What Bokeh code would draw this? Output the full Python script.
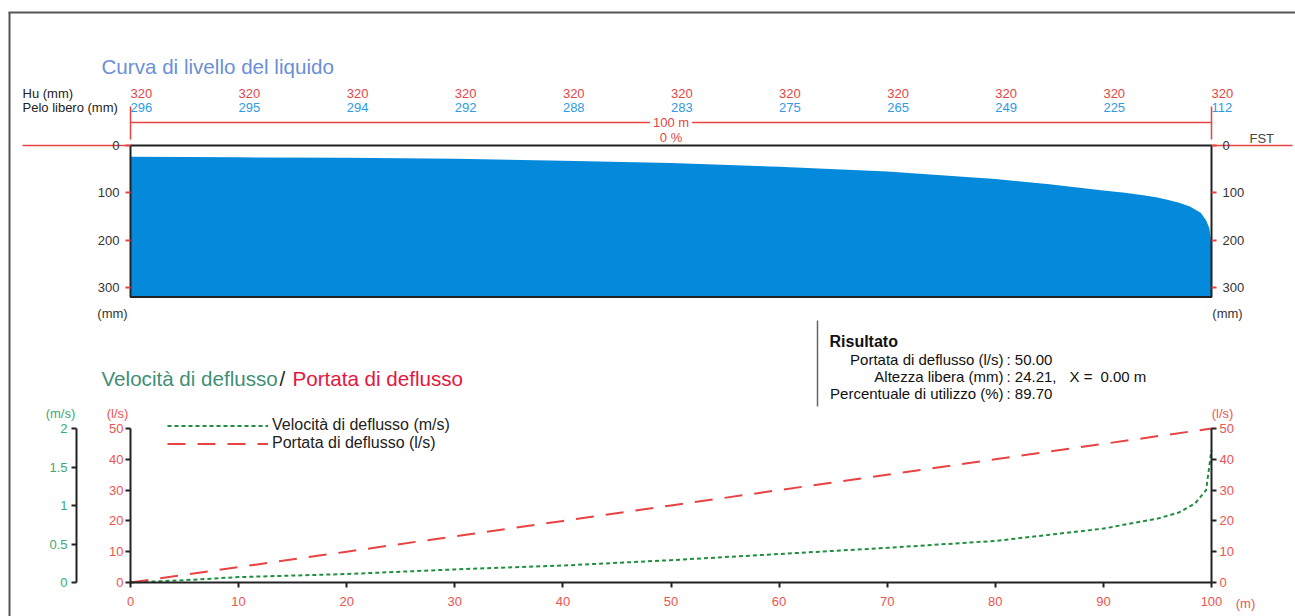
from bokeh.plotting import figure
from bokeh.models import (Range1d, LinearAxis, FixedTicker, NumeralTickFormatter, Label,
                          Legend, LegendItem, ColumnDataSource, Grid)
from bokeh.embed import file_html
from bokeh.resources import INLINE
from bokeh.core.properties import value

# ---------------- data ----------------
stations_m = [0, 10, 20, 30, 40, 50, 60, 70, 80, 90, 100]
hu_mm = [320, 320, 320, 320, 320, 320, 320, 320, 320, 320, 320]
pelo_libero_mm = [296, 295, 294, 292, 288, 283, 275, 265, 249, 225, 112]

profile_x_m = [0, 10, 20, 30, 40, 50, 60, 70, 80, 85, 90, 92, 94, 95, 96, 97, 98, 99,
               99.5, 99.8, 100]
profile_pelo_mm = [296, 295, 294, 292, 288, 283, 275, 265, 249, 238, 225, 220, 214, 210, 205,
                   199, 191, 178, 162, 145, 112]
pipe_height_mm = 320
pipe_length_label = "100 m"
slope_label = "0 %"
depth_ticks = [0, 100, 200, 300]

flow_x_m = [0, 10, 20, 30, 40, 50, 60, 70, 80, 90, 100]
flow_ls = [0, 5, 10, 15, 20, 25, 30, 35, 40, 45, 50]
vel_x_m = [0, 5, 10, 20, 30, 40, 50, 60, 70, 80, 90, 95, 97, 98.5, 99.5, 100]
vel_ms = [0, 0.03, 0.07, 0.11, 0.17, 0.22, 0.29, 0.37, 0.45, 0.54, 0.70, 0.83, 0.91, 1.03, 1.20, 1.72]
flow_ticks = [0, 10, 20, 30, 40, 50]
vel_ticks = [0, 0.5, 1, 1.5, 2]
x_ticks = [0, 10, 20, 30, 40, 50, 60, 70, 80, 90, 100]

result_names = ["Portata di deflusso (l/s)", "Altezza libera (mm)", "Percentuale di utilizzo (%)"]
result_values = [": 50.00", ": 24.21,", ": 89.70"]

# ---------------- layout constants (screen px) ----------------
W, H = 1295, 616
CL, CT = 0, 0                 # canvas left / top on page
X0, X100 = 130, 1211          # screen x of 0 m and 100 m
PXM = (X100 - X0) / 100.0
MM0, PX_MM = 145, (287 - 145) / 300.0
LS0, PX_LS = 582, (582 - 428) / 50.0
PX_MS = (582 - 428) / 2.0

def mx(px):
    return (px - X0) / PXM

def ly(py):
    return (LS0 - py) / PX_LS

x_range = Range1d((CL - X0) / PXM, (CL + W - X0) / PXM)
ls_range = Range1d((LS0 - (CT + H)) / PX_LS, (LS0 - CT) / PX_LS)
mm_range = Range1d(((CT + H) - MM0) / PX_MM, (CT - MM0) / PX_MM)
ms_range = Range1d((LS0 - (CT + H)) / PX_MS, (LS0 - CT) / PX_MS)

FONT = "Liberation Sans"
RED = "#E84343"
RED_T = "#EF5350"
BLUE_T = "#2E9BE6"
GREEN = "#1F8F3F"
GREEN_T = "#3AA878"
DARK = "#333333"

p = figure(width=W, height=H, x_range=x_range, y_range=ls_range, min_border=0,
           x_axis_location=None, y_axis_location=None, toolbar_location=None,
           title_location=None, output_backend="svg", outline_line_color=None,
           background_fill_color="white", border_fill_color="white")
p.extra_y_ranges = {"mm": mm_range, "ms": ms_range}
for r in list(p.center):
    if isinstance(r, Grid):
        r.visible = False

def lab(text, px, py, color, size, align="left", bold=False, bg=None):
    l = Label(x=mx(px), y=ly(py), text=text, text_color=color, text_font_size=f"{size}px",
              text_font=FONT, text_align=align, text_baseline="middle",
              text_font_style="bold" if bold else "normal")
    if bg is not None:
        l.background_fill_color = bg
        l.padding = 3
    p.add_layout(l)

# page frame
p.line([mx(8), mx(1295)], [ly(12), ly(12)], line_color="#555555", line_width=2)
p.line([mx(9), mx(9)], [ly(12), ly(616)], line_color="#555555", line_width=2)

# ---------------- top chart ----------------
lab("Curva di livello del liquido", 101, 66, "#6A8FD6", 20.6)
lab("Hu (mm)", 22, 93, "#222222", 13)
lab("Pelo libero (mm)", 22, 107, "#222222", 13)

src_st = ColumnDataSource(dict(x=stations_m, hu=[str(v) for v in hu_mm],
                               pl=[str(v) for v in pelo_libero_mm]))
p.text(x="x", y=ly(93), text="hu", source=src_st, text_color=RED, text_font=value(FONT),
       text_font_size="13px", text_align="left", text_baseline="middle")
p.text(x="x", y=ly(107), text="pl", source=src_st, text_color=BLUE_T, text_font=value(FONT),
       text_font_size="13px", text_align="left", text_baseline="middle")

# pipe length dimension line
p.segment(x0=[0, 0, 100], y0=[ly(122), ly(106), ly(106)], x1=[100, 0, 100],
          y1=[ly(122), ly(139), ly(139)], line_color=RED, line_width=1.5)
lab(pipe_length_label, X0 + 50 * PXM, 122, RED, 13, align="center", bg="white")
lab(slope_label, X0 + 50 * PXM, 137, RED, 13, align="center")

# FST line
p.segment(x0=[mx(22), 100], y0=[0, 0], x1=[0, mx(1292)], y1=[0, 0],
          y_range_name="mm", line_color=RED, line_width=1.5)
lab("FST", 1249, 138, "#444444", 13)

# liquid
depth_top = [pipe_height_mm - v for v in profile_pelo_mm]
p.varea(x=profile_x_m, y1=depth_top, y2=[pipe_height_mm] * len(profile_x_m),
        y_range_name="mm", fill_color="#058ADB")
p.quad(left=0, right=100, top=0, bottom=pipe_height_mm, y_range_name="mm",
       fill_color=None, line_color="#222222", line_width=2)

for side, loc in (("left", 0), ("right", 100)):
    ax = LinearAxis(y_range_name="mm", fixed_location=loc, ticker=FixedTicker(ticks=depth_ticks),
                    bounds=(0, pipe_height_mm), axis_line_color=None,
                    major_tick_line_color=RED, major_tick_line_width=2,
                    major_tick_out=5, major_tick_in=0, minor_tick_line_color=None,
                    major_label_text_color=DARK, major_label_text_font_size="13px",
                    major_label_text_font=FONT, major_label_standoff=6)
    p.add_layout(ax, side)

lab("(mm)", 112, 313, DARK, 13, align="center")
lab("(mm)", 1227, 313, DARK, 13, align="center")

# ---------------- result box ----------------
p.line([mx(817), mx(817)], [ly(320), ly(406)], line_color="#666666", line_width=1.5)
lab("Risultato", 829, 341, "#111111", 16, bold=True)
for i, (n, v) in enumerate(zip(result_names, result_values)):
    yy = [359, 376, 393][i]
    lab(n, 1003, yy, "#111111", 15, align="right")
    lab(v, 1006, yy, "#111111", 15)
lab("X =", 1069, 376, "#111111", 15)
lab("0.00 m", 1100, 376, "#111111", 15)

# ---------------- bottom chart ----------------
lab("Velocità di deflusso", 101, 378, "#3F8F77", 20.6)
lab("/", 279, 378, "#222222", 20.6)
lab("Portata di deflusso", 292, 378, "#E5173F", 20.6)

r_v = p.line(vel_x_m, vel_ms, y_range_name="ms", line_color=GREEN, line_width=2,
             line_dash="4 3")
r_q = p.line(flow_x_m, flow_ls, line_color=RED, line_width=2, line_dash="18 12")

axis_common = dict(axis_line_color="#222222", axis_line_width=2,
                   major_tick_line_color="#222222", major_tick_line_width=2,
                   major_tick_out=5, major_tick_in=0, minor_tick_line_color=None,
                   major_label_text_font_size="13px", major_label_text_font=FONT)

ax_ms = LinearAxis(y_range_name="ms", fixed_location=mx(76), ticker=FixedTicker(ticks=vel_ticks),
                   bounds=(0, 2), formatter=NumeralTickFormatter(format="0.[0]"),
                   major_label_text_color=GREEN_T, major_label_standoff=4, **axis_common)
p.add_layout(ax_ms, "left")
ax_ls = LinearAxis(fixed_location=0, ticker=FixedTicker(ticks=flow_ticks), bounds=(0, 50),
                   major_label_text_color=RED_T, major_label_standoff=2, **axis_common)
p.add_layout(ax_ls, "left")
ax_ls_r = LinearAxis(fixed_location=100, ticker=FixedTicker(ticks=flow_ticks), bounds=(0, 50),
                     major_label_text_color=RED_T, major_label_standoff=3, **axis_common)
p.add_layout(ax_ls_r, "right")
ax_x = LinearAxis(fixed_location=0, ticker=FixedTicker(ticks=x_ticks), bounds=(0, 100),
                  major_label_text_color=RED_T, major_label_standoff=9, **axis_common)
p.add_layout(ax_x, "below")

lab("(m/s)", 60, 413, GREEN_T, 13, align="center")
lab("(l/s)", 117, 413, RED_T, 13, align="center")
lab("(l/s)", 1222, 413, RED_T, 13, align="center")
lab("(m)", 1245, 603, RED_T, 13, align="center")

legend = Legend(items=[LegendItem(label="Velocità di deflusso (m/s)", renderers=[r_v]),
                       LegendItem(label="Portata di deflusso (l/s)", renderers=[r_q])],
                location=(167, 164), glyph_width=101, glyph_height=17, label_height=17,
                label_standoff=4, spacing=0, padding=0, margin=0,
                border_line_color=None, background_fill_alpha=0,
                label_text_font_size="16px", label_text_font=FONT, label_text_color="#222222")
p.add_layout(legend)

open("out.html", "w").write(file_html(p, INLINE))
